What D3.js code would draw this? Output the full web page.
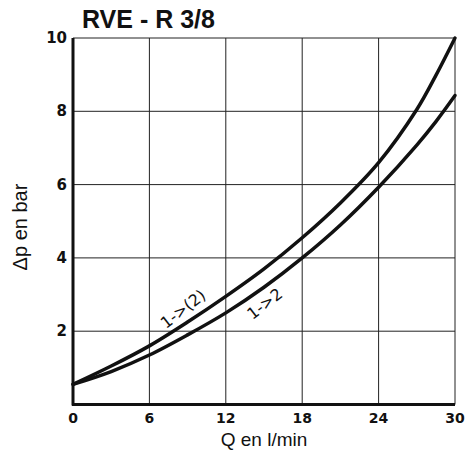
<!DOCTYPE html>
<html><head><meta charset="utf-8">
<script src="https://cdn.jsdelivr.net/npm/d3@7/dist/d3.min.js"></script>
<style>body{margin:0;background:#fff}svg{display:block}</style>
</head><body>
<script>
const title = "RVE - R 3/8";
const xTicks = [0, 6, 12, 18, 24, 30];
const yTicks = [0, 2, 4, 6, 8, 10];
const flowQ = [0, 3, 6, 9, 12, 15, 18, 21, 24, 27, 28.5, 30];
const seriesUpper = [0.55, 1.05, 1.6, 2.25, 2.95, 3.7, 4.55, 5.5, 6.6, 8.05, 8.98, 10];
const seriesLower = [0.55, 0.9, 1.35, 1.9, 2.5, 3.2, 4.0, 4.9, 5.93, 7.08, 7.72, 8.43];
const seriesNames = ["1->(2)", "1->2"];

const W = 467, H = 450;
const svg = d3.select("body").append("svg").attr("width", W).attr("height", H);
const x = d3.scaleLinear().domain([0, 30]).range([73, 455]);
const y = d3.scaleLinear().domain([0, 10]).range([404.5, 38]);

// grid
svg.append("g").selectAll("line").data(xTicks.slice(1)).join("line")
  .attr("x1", d => x(d)).attr("x2", d => x(d)).attr("y1", y(0)).attr("y2", y(10))
  .attr("stroke", "#222").attr("stroke-width", 1);
svg.append("g").selectAll("line").data(yTicks.slice(1)).join("line")
  .attr("x1", x(0)).attr("x2", x(30)).attr("y1", d => y(d)).attr("y2", d => y(d))
  .attr("stroke", "#222").attr("stroke-width", 1);
// axes
svg.append("line").attr("x1", x(0)).attr("x2", x(0)).attr("y1", y(0)+1).attr("y2", y(10))
  .attr("stroke", "#111").attr("stroke-width", 3);
svg.append("line").attr("x1", x(0)-1).attr("x2", x(30)).attr("y1", y(0)).attr("y2", y(0))
  .attr("stroke", "#111").attr("stroke-width", 3);

// tick labels
svg.append("g").selectAll("text").data(xTicks).join("text")
  .attr("x", d => x(d)).attr("y", 423).attr("text-anchor", "middle")
  .attr("font-family", "DejaVu Sans").attr("font-weight", "bold").attr("font-size", 14)
  .attr("fill", "#111").text(d => d);
svg.append("g").selectAll("text").data(yTicks.slice(1)).join("text")
  .attr("x", 67).attr("y", d => y(d) + 5).attr("text-anchor", "end")
  .attr("font-family", "DejaVu Sans").attr("font-weight", "bold").attr("font-size", 15)
  .attr("fill", "#111").text(d => d);

// titles
svg.append("text").attr("x", 82).attr("y", 28).attr("font-family", "Liberation Sans, Arial")
  .attr("font-weight", "bold").attr("font-size", 25).attr("fill", "#111").text(title);
svg.append("text").attr("x", 264).attr("y", 446).attr("text-anchor", "middle")
  .attr("font-family", "Liberation Sans, Arial").attr("font-size", 19).attr("fill", "#111").text("Q en l/min");
svg.append("text").attr("transform", "translate(27,227) rotate(-90)").attr("text-anchor", "middle")
  .attr("font-family", "Liberation Sans, Arial").attr("font-size", 20).attr("fill", "#111").text("Δp en bar");

// curves
const line = d3.line().x(d => x(d[0])).y(d => y(d[1])).curve(d3.curveCatmullRom.alpha(0.5));
[seriesUpper, seriesLower].forEach(s => {
  svg.append("path").datum(flowQ.map((q, i) => [q, s[i]])).attr("d", line)
    .attr("fill", "none").attr("stroke", "#111").attr("stroke-width", 3.5).attr("stroke-linecap", "round");
});

// curve labels
svg.append("text").attr("transform", `translate(${x(7.3)},${y(2.05)}) rotate(-38)`)
  .attr("font-family", "DejaVu Sans").attr("font-size", 16).attr("fill", "#111").text(seriesNames[0]);
svg.append("text").attr("transform", `translate(${x(14.1)},${y(2.3)}) rotate(-38)`)
  .attr("font-family", "DejaVu Sans").attr("font-size", 16).attr("fill", "#111").text(seriesNames[1]);
</script>
</body></html>
